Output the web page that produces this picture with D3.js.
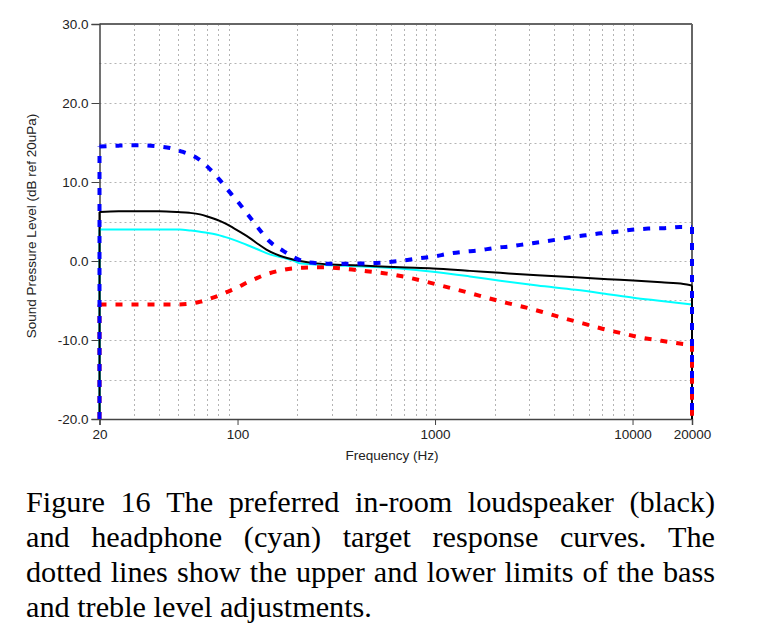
<!DOCTYPE html>
<html><head><meta charset="utf-8">
<script src="https://cdn.jsdelivr.net/npm/d3@7"></script>
<style>html,body{margin:0;padding:0;background:#fff;} svg{display:block;}</style>
</head><body>
<svg id="chart" width="766" height="643"></svg>
<script>
// ---- data ----
const xTickValues = [20, 100, 1000, 10000, 20000];
const xTickLabels = ["20", "100", "1000", "10000", "20000"];
const yTickValues = [30, 20, 10, 0, -10, -20];
const yTickLabels = ["30.0", "20.0", "10.0", "0.0", "-10.0", "-20.0"];
const xGridValues = [30,40,50,60,70,80,90,200,300,400,500,600,700,800,900,1000,2000,3000,4000,5000,6000,7000,8000,9000,10000];
const yGridValues = [25,20,15,10,5,0,-5,-10,-15];

const loudFreq = [20,25,30,40,50,57,64.6,71,78,86,95,105,115.5,127,140,155,171,190,207,250,350,500,664,977,1500,2136,3300,5150,7500,10100,14000,18100,20000];
const loudDb   = [6.2,6.3,6.3,6.3,6.2,6.1,5.9,5.6,5.25,4.8,4.2,3.55,2.9,2.15,1.45,0.9,0.5,0.2,0.0,-0.3,-0.5,-0.65,-0.8,-0.95,-1.25,-1.5,-1.8,-2.05,-2.3,-2.47,-2.7,-2.9,-3.1];

const phoneFreq = [20,30,40,51,58,64.6,71,78,86,95,105,115,127,140,155,171,190,207,250,350,500,664,977,1500,2136,3300,5150,7500,10100,14000,20000];
const phoneDb   = [4.0,4.0,4.0,4.0,3.85,3.7,3.55,3.35,3.05,2.7,2.3,1.9,1.45,1.0,0.65,0.4,0.1,-0.3,-0.45,-0.6,-0.75,-0.95,-1.35,-1.95,-2.5,-3.1,-3.65,-4.2,-4.65,-5.05,-5.5];

const upperFreq = [20,25,31,40,45.5,53,62.7,72,81,91,103,115,129,145,171,199,232,300,450,570,690,806,977,1190,1380,1680,2000,2400,2900,3400,4100,4800,5800,6900,8300,9900,12000,14500,17400,20000];
const upperDb   = [14.5,14.6,14.65,14.5,14.3,13.8,13.0,11.7,10.3,8.75,7.15,5.6,4.0,2.5,1.25,0.3,-0.2,-0.35,-0.3,-0.15,0.05,0.3,0.55,0.95,1.15,1.35,1.65,1.85,2.15,2.4,2.7,3.0,3.25,3.5,3.7,3.95,4.1,4.15,4.3,4.3];

const lowerFreq = [20,30,50,57.6,65,72,80,88,100,111,122,134,150,171,215,277,356,450,570,717,908,1150,1450,1830,2300,2900,3600,4500,5600,7100,9000,11100,14000,18000,20000];
const lowerDb   = [-5.5,-5.5,-5.5,-5.4,-5.15,-4.8,-4.4,-3.95,-3.35,-2.75,-2.3,-1.85,-1.45,-1.1,-0.85,-0.8,-1.0,-1.3,-1.6,-2.05,-2.65,-3.3,-3.95,-4.65,-5.3,-5.9,-6.55,-7.25,-7.9,-8.6,-9.2,-9.7,-10.1,-10.5,-10.6];

const yTitle = "Sound Pressure Level (dB ref 20uPa)";
const xTitle = "Frequency (Hz)";
const captionLines = [
  "Figure 16 The preferred in-room loudspeaker (black)",
  "and headphone (cyan) target response curves. The",
  "dotted lines show the upper and lower limits of the bass",
  "and treble level adjustments."
];

// ---- layout ----
const svg = d3.select("#chart");
const L = 99.5, R = 692, T = 24, B = 419;
const x = d3.scaleLog().domain([20, 20000]).range([L, R]);
const y = d3.scaleLinear().domain([-20, 30]).range([B, T]);
const floor = -20;

svg.append("rect").attr("width",766).attr("height",643).attr("fill","#fff");

// grid
const g = svg.append("g");
g.selectAll(".vg").data(xGridValues).join("line")
  .attr("x1", d => Math.round(x(d)) + 0.5).attr("x2", d => Math.round(x(d)) + 0.5)
  .attr("y1", T).attr("y2", B)
  .attr("stroke", "#b4b4b4").attr("stroke-width", 1).attr("stroke-dasharray", "2,3");
g.selectAll(".hg").data(yGridValues).join("line")
  .attr("y1", d => Math.round(y(d)) + 0.5).attr("y2", d => Math.round(y(d)) + 0.5)
  .attr("x1", L).attr("x2", R)
  .attr("stroke", "#b4b4b4").attr("stroke-width", 1).attr("stroke-dasharray", "2,3");

// frame (top/right)
svg.append("line").attr("x1", L).attr("x2", R).attr("y1", T).attr("y2", T).attr("stroke", "#666").attr("stroke-width", 2);
svg.append("line").attr("x1", R).attr("x2", R).attr("y1", T).attr("y2", B).attr("stroke", "#666").attr("stroke-width", 2);

// axes
const sansFont = "'Liberation Sans', Arimo, Arial, sans-serif";
const yAxis = d3.axisLeft(y).tickValues(yTickValues).tickFormat((d,i) => yTickLabels[i]).tickSize(8).tickPadding(3);
const yg = svg.append("g").attr("transform", `translate(${L},0)`).call(yAxis);
const xAxis = d3.axisBottom(x).tickValues(xTickValues).tickFormat((d,i) => xTickLabels[i]).tickSize(6).tickPadding(4);
const xg = svg.append("g").attr("transform", `translate(0,${B})`).call(xAxis);
[yg, xg].forEach(a => {
  a.select(".domain").attr("stroke", "#444").attr("stroke-width", 1.5);
  a.selectAll(".tick line").attr("stroke", "#444");
  a.selectAll(".tick text").attr("fill", "#222").attr("font-family", sansFont).attr("font-size", "13.5px");
});

// curves
const line = d3.line().x(d => x(d[0])).y(d => y(d[1])).curve(d3.curveMonotoneX);
const vline = d3.line().x(d => x(d[0])).y(d => y(d[1]));
function drawSeries(freqs, vals, color, width, dash) {
  const pts = freqs.map((f, i) => [f, vals[i]]);
  const d = vline([[freqs[0], floor], pts[0]]) + line(pts) + vline([pts[pts.length-1], [freqs[freqs.length-1], floor]]);
  svg.append("path").attr("d", d).attr("fill", "none")
    .attr("stroke", color).attr("stroke-width", width)
    .attr("stroke-dasharray", dash || null).attr("stroke-linejoin", "round");
}
drawSeries(phoneFreq, phoneDb, "#00ffff", 2, null);
drawSeries(loudFreq, loudDb, "#000000", 2, null);
drawSeries(lowerFreq, lowerDb, "#ff0000", 4, "7,9");
drawSeries(upperFreq, upperDb, "#0000ff", 4, "7,9");

// titles
svg.append("text").attr("x", 392).attr("y", 460).attr("text-anchor", "middle")
  .attr("font-family", sansFont).attr("font-size", "13.5px").attr("fill", "#222").text(xTitle);
svg.append("text").attr("transform", "translate(36,226) rotate(-90)").attr("text-anchor", "middle")
  .attr("font-family", sansFont).attr("font-size", "13.5px").attr("fill", "#222").text(yTitle);

// caption (justified)
const capFont = "serif";
const capL = 26, capR = 715;
const probe = svg.append("text").attr("font-family", capFont).attr("font-size", "100px").text(captionLines[3]);
const fs = 100 * 346 / probe.node().getComputedTextLength();
probe.remove();
const baselines = [512, 546.7, 581.7, 616.7];
captionLines.forEach((ln, li) => {
  const words = ln.split(" ");
  const grp = svg.append("g");
  const nodes = words.map(w => grp.append("text").attr("font-family", capFont).attr("font-size", fs + "px").attr("fill", "#000").attr("y", baselines[li]).text(w));
  const widths = nodes.map(n => n.node().getComputedTextLength());
  const total = d3.sum(widths);
  const justify = li < captionLines.length - 1;
  const gap = justify ? (capR - capL - total) / (words.length - 1) : fs * 0.25;
  let cx = capL;
  nodes.forEach((n, i) => { n.attr("x", cx); cx += widths[i] + gap; });
});
</script>
</body></html>
